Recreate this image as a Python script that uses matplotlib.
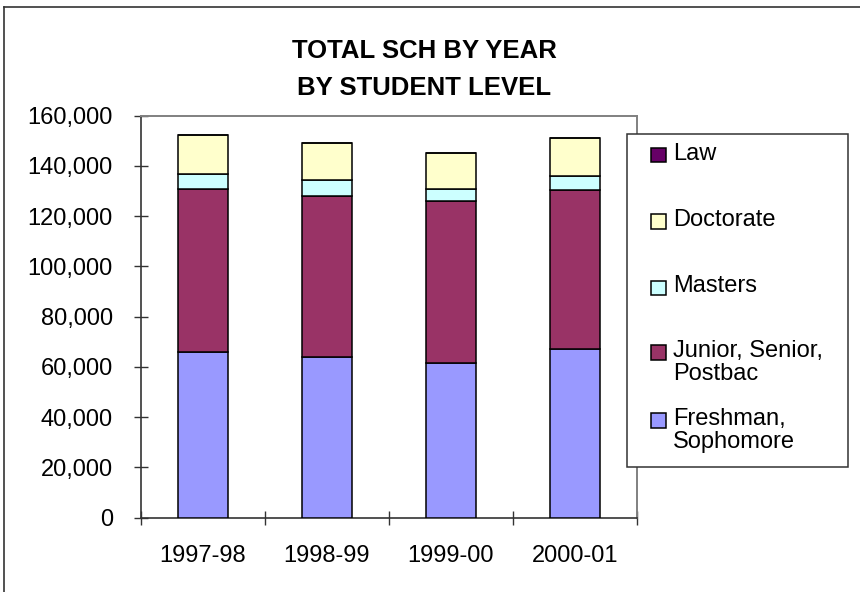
import matplotlib
matplotlib.use("Agg")
import matplotlib.pyplot as plt
from matplotlib.patches import Rectangle
from matplotlib.lines import Line2D
from matplotlib.ticker import FuncFormatter, FixedLocator
import numpy as np

plt.rcParams['font.family'] = ['Liberation Sans', 'DejaVu Sans']

years = ["1997-98", "1998-99", "1999-00", "2000-01"]
series_names = ["Freshman,\nSophomore", "Junior, Senior,\nPostbac", "Masters", "Doctorate", "Law"]
freshman = [66000, 64000, 61500, 67000]
junior = [64800, 64200, 64500, 63500]
masters = [6000, 6200, 4800, 5500]
doctorate = [15600, 14800, 14200, 15200]
law = [0, 0, 0, 0]
colors = ["#9999FF", "#993366", "#CCFFFF", "#FFFFCC", "#660066"]
title_lines = ["TOTAL SCH BY YEAR", "BY STUDENT LEVEL"]

W, H = 860, 592
fig = plt.figure(figsize=(W / 100, H / 100), dpi=100)

def fx(x):
    return x / W

def fy(y):
    return 1 - y / H

ax_l, ax_r, ax_t, ax_b = 141, 636.7, 115.7, 517.7
ax = fig.add_axes([fx(ax_l), fy(ax_b), fx(ax_r - ax_l), (ax_b - ax_t) / H])

data = [freshman, junior, masters, doctorate, law]
x = np.arange(len(years))
bottom = np.zeros(len(years))
for vals, c in zip(data, colors):
    ax.bar(x, vals, width=0.4, bottom=bottom, color=c, edgecolor="black",
           linewidth=1.1, zorder=3)
    bottom += np.array(vals)

ax.set_xlim(-0.5, len(years) - 0.5)
ax.set_ylim(0, 160000)
ax.set_yticks(np.arange(0, 160001, 20000))
ax.yaxis.set_major_formatter(FuncFormatter(lambda v, p: f"{int(v):,}"))
ax.xaxis.set_major_locator(FixedLocator(np.arange(-0.5, len(years), 1.0)))
ax.xaxis.set_major_formatter(FuncFormatter(lambda v, p: ""))
ax.set_xticks(x, minor=True)
ax.set_xticklabels(years, minor=True)
ax.tick_params(axis='x', which='minor', length=0, labelsize=17, pad=20)
ax.tick_params(axis='x', which='major', direction='inout', length=9.5, width=1, color='#333333')
ax.tick_params(axis='y', direction='inout', length=9.5, width=1, color='#333333', labelsize=17, pad=15.5)

for s in ['left', 'bottom']:
    ax.spines[s].set_color('#333333')
    ax.spines[s].set_linewidth(1.2)
for s in ['top', 'right']:
    ax.spines[s].set_color('#808080')
    ax.spines[s].set_linewidth(1.4)

# Title
fig.text(fx(424), fy(51), title_lines[0], ha='center', va='center', fontsize=18.5, fontweight='bold')
fig.text(fx(424), fy(87.7), title_lines[1], ha='center', va='center', fontsize=18.5, fontweight='bold')

# Outer frame
fig.add_artist(Line2D([fx(3.5), fx(3.5)], [fy(7), fy(600)], color='#333333', lw=1.2))
fig.add_artist(Line2D([fx(3.5), fx(870)], [fy(7), fy(7)], color='#333333', lw=1.2))

# Legend (manual)
lg_l, lg_t, lg_r, lg_b = 626.7, 134, 847.7, 466.7
fig.add_artist(Rectangle((fx(lg_l), fy(lg_b)), fx(lg_r - lg_l), (lg_b - lg_t) / H,
                         transform=fig.transFigure, facecolor='white', edgecolor='#333333', lw=1.1, zorder=5))
entry_y = [155, 221.7, 288, 352.5, 420.5]
legend_order = list(range(len(series_names)))[::-1]
for yy, idx in zip(entry_y, legend_order):
    sq = 14.5
    fig.add_artist(Rectangle((fx(651), fy(yy + sq / 2)), fx(sq), sq / H,
                             transform=fig.transFigure, facecolor=colors[idx],
                             edgecolor='black', lw=1.1, zorder=6))
    fig.text(fx(673), fy(yy - 12.5), series_names[idx], ha='left', va='top',
             fontsize=17, linespacing=1.07, zorder=7)

fig.savefig("out.png", dpi=100)
